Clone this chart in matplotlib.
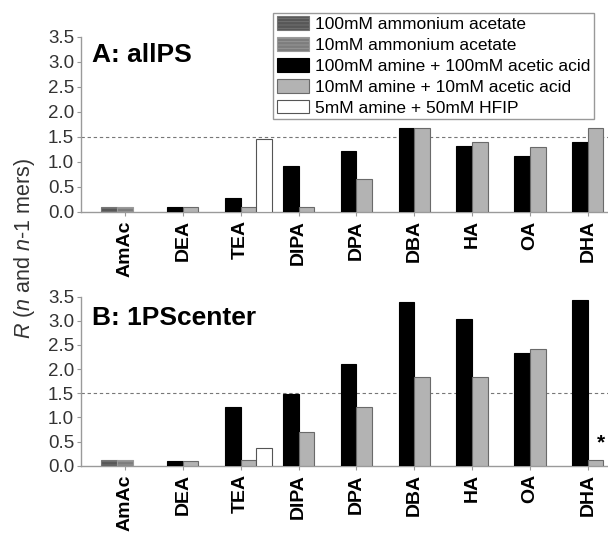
import numpy as np
import matplotlib
matplotlib.use("Agg")
import matplotlib.pyplot as plt
from matplotlib.patches import Patch

plt.rcParams['font.family'] = ['Liberation Sans', 'DejaVu Sans']
plt.rcParams['mathtext.fontset'] = 'custom'
plt.rcParams['mathtext.it'] = 'Liberation Sans:italic'
plt.rcParams['mathtext.rm'] = 'Liberation Sans'
plt.rcParams['hatch.linewidth'] = 0.6

categories = ['AmAc', 'DEA', 'TEA', 'DIPA', 'DPA', 'DBA', 'HA', 'OA', 'DHA']
nan = np.nan

# Panel A: allPS
amac100_a = [0.10, nan, nan, nan, nan, nan, nan, nan, nan]
amac10_a = [0.10, nan, nan, nan, nan, nan, nan, nan, nan]
amine100_a = [nan, 0.10, 0.28, 0.92, 1.21, 1.68, 1.32, 1.12, 1.39]
amine10_a = [nan, 0.10, 0.10, 0.10, 0.66, 1.68, 1.40, 1.29, 1.68]
hfip_a = [nan, nan, 1.45, nan, nan, nan, nan, nan, nan]

# Panel B: 1PScenter
amac100_b = [0.11, nan, nan, nan, nan, nan, nan, nan, nan]
amac10_b = [0.11, nan, nan, nan, nan, nan, nan, nan, nan]
amine100_b = [nan, 0.10, 1.22, 1.48, 2.10, 3.38, 3.04, 2.34, 3.43]
amine10_b = [nan, 0.10, 0.12, 0.70, 1.22, 1.84, 1.84, 2.42, 0.12]
hfip_b = [nan, nan, 0.37, nan, nan, nan, nan, nan, nan]

series_labels = ['100mM ammonium acetate', '10mM ammonium acetate',
                 '100mM amine + 100mM acetic acid', '10mM amine + 10mM acetic acid',
                 '5mM amine + 50mM HFIP']

W = 0.271  # bar width in category units
styles = [
    dict(offset=-1.0, fc='#575757', ec='#767676', hatch='-----'),
    dict(offset=0.0, fc='#7d7d7d', ec='#9a9a9a', hatch='-----'),
    dict(offset=-0.5, fc='#000000', ec='#000000', hatch=None),
    dict(offset=0.5, fc='#b3b3b3', ec='#6a6a6a', hatch=None),
    dict(offset=1.5, fc='#ffffff', ec='#555555', hatch=None),
]

fig = plt.figure(figsize=(6.08, 5.37), dpi=100)
ax_a = fig.add_axes([81 / 608, 325 / 537, 527 / 608, 175.3 / 537])
ax_b = fig.add_axes([81 / 608, 71.3 / 537, 527 / 608, 169 / 537])

x = np.arange(len(categories))


def draw_panel(ax, data, title, title_y):
    for vals, st in zip(data, styles):
        v = np.array(vals, dtype=float)
        ax.bar(x + st['offset'] * W, v, width=W, color=st['fc'],
               edgecolor=st['ec'], linewidth=0.8, hatch=st['hatch'], zorder=3)
    ax.axhline(1.5, color='#777777', lw=0.8, ls=(0, (3, 2.5)), zorder=2)
    ax.set_xlim(-0.76, 8.35)
    ax.set_ylim(0, 3.5)
    ax.set_yticks(np.arange(0, 3.51, 0.5))
    ax.set_yticklabels([f'{t:.1f}' for t in np.arange(0, 3.51, 0.5)],
                       fontsize=13.5, color='#333333')
    ax.set_xticks(x)
    ax.set_xticklabels(categories, rotation=90, fontsize=14, fontweight='bold')
    ax.tick_params(axis='x', length=3, pad=3, color='#999999')
    ax.tick_params(axis='y', length=3, pad=2, color='#999999')
    for side in ('top', 'right'):
        ax.spines[side].set_visible(False)
    for side in ('left', 'bottom'):
        ax.spines[side].set_color('#9a9a9a')
        ax.spines[side].set_linewidth(1.0)
    ax.text(0.021, title_y, title, transform=ax.transAxes, fontsize=19,
            fontweight='bold', va='baseline', ha='left')


draw_panel(ax_a, [amac100_a, amac10_a, amine100_a, amine10_a, hfip_a],
           'A: allPS', 0.856)
draw_panel(ax_b, [amac100_b, amac10_b, amine100_b, amine10_b, hfip_b],
           'B: 1PScenter', 0.833)

# marker above the DHA 10mM bar in panel B
ax_b.text(8 + 0.5 * W + 0.1, 0.28, '*', fontsize=15, fontweight='bold',
          ha='center', va='bottom')

handles = [Patch(facecolor=st['fc'], edgecolor=st['ec'], hatch=st['hatch'],
                 linewidth=0.8) for st in styles]
fig.legend(handles, series_labels, loc='upper right',
           bbox_to_anchor=(594 / 608, 1 - 13 / 537), fontsize=12.5,
           frameon=True, fancybox=False, edgecolor='#999999', framealpha=1,
           handlelength=1.85, handleheight=0.85, handletextpad=0.35,
           labelspacing=0.28, borderpad=0.2, borderaxespad=0)

fig.text(0.041, 0.538, r'$R$ ($n$ and $n$-1 mers)', rotation=90, fontsize=15.5,
         ha='center', va='center', color='#333333')

fig.savefig('out.png', dpi=100)
